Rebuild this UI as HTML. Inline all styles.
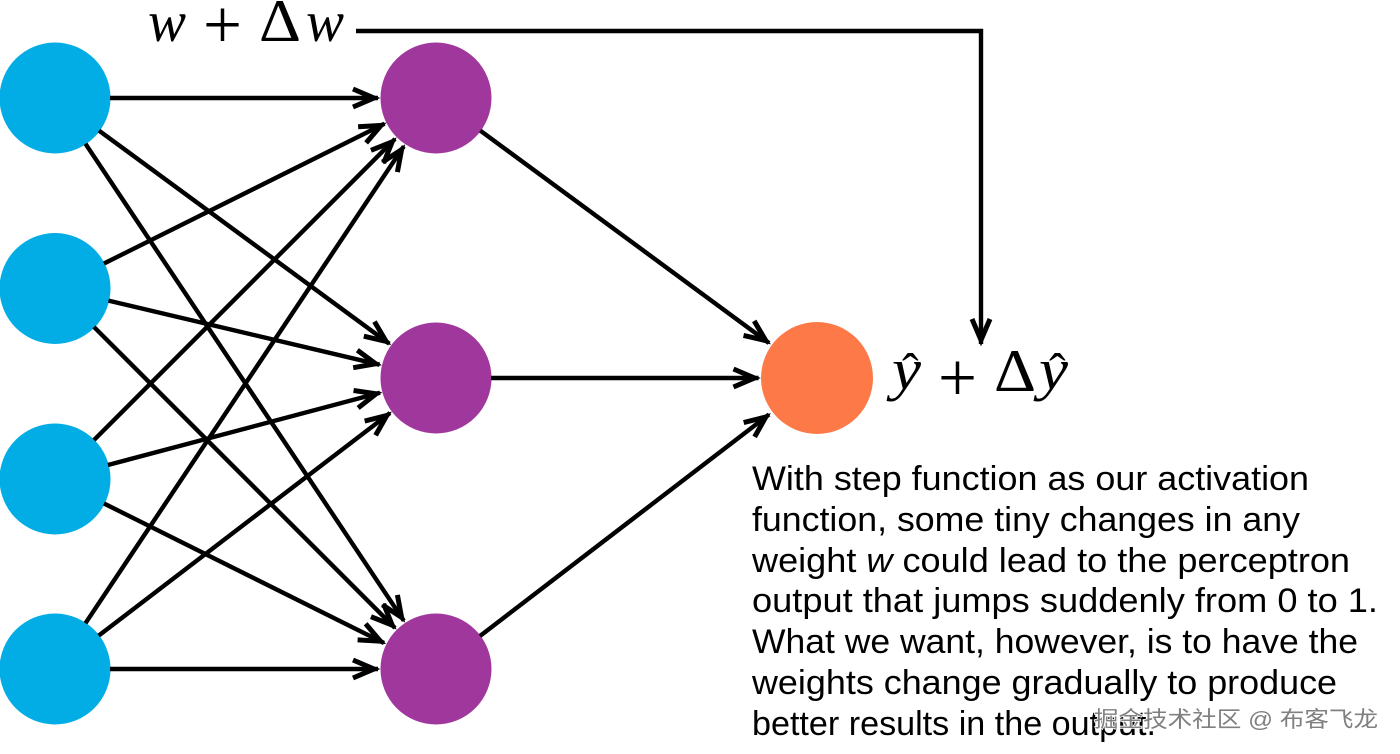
<!DOCTYPE html>
<html><head><meta charset="utf-8"><style>
html,body{margin:0;padding:0;background:#fff;width:1400px;height:754px;overflow:hidden}
svg{display:block}
.t{font-family:"Liberation Sans",sans-serif;font-size:34px;fill:#000}
.m{font-family:"Liberation Serif",serif;fill:#000}
.i{font-style:italic}
.wm{font-family:"Liberation Sans","Noto Sans CJK SC",sans-serif;font-size:22px;fill:#808080;paint-order:stroke;stroke:#fff;stroke-width:1.5px}
</style></head><body>
<svg width="1400" height="754" viewBox="0 0 1400 754" xmlns="http://www.w3.org/2000/svg">
<defs>
<marker id="a" markerUnits="userSpaceOnUse" markerWidth="40" markerHeight="40" refX="28" refY="20" orient="auto">
<path d="M3,11 L24,20 L3,29" fill="none" stroke="#000" stroke-width="5"/>
</marker>
</defs>
<g fill="#01ade4">
<circle cx="55" cy="98" r="55.5"/><circle cx="55" cy="288.5" r="55.5"/><circle cx="55" cy="479" r="55.5"/><circle cx="55" cy="669" r="55.5"/>
</g>
<g fill="#a0379d">
<circle cx="436" cy="98" r="55.5"/><circle cx="436" cy="378" r="55.5"/><circle cx="436" cy="669" r="55.5"/>
</g>
<circle cx="817" cy="378" r="56" fill="#fd7a48"/>
<g stroke="#000" stroke-width="4.4" fill="none">
<line x1="110" y1="98" x2="378" y2="98" marker-end="url(#a)"/>
<line x1="99" y1="130.6" x2="389.3" y2="343.7" marker-end="url(#a)"/>
<line x1="85.5" y1="143.8" x2="403.8" y2="620.7" marker-end="url(#a)"/>
<line x1="104" y1="263.5" x2="384.5" y2="123.7" marker-end="url(#a)"/>
<line x1="108.5" y1="300.6" x2="379.6" y2="364.7" marker-end="url(#a)"/>
<line x1="94" y1="327" x2="395" y2="628" marker-end="url(#a)"/>
<line x1="94" y1="440" x2="395" y2="139" marker-end="url(#a)"/>
<line x1="108" y1="465" x2="380" y2="392.8" marker-end="url(#a)"/>
<line x1="104" y1="503.5" x2="384" y2="643" marker-end="url(#a)"/>
<line x1="85.5" y1="623.2" x2="403.8" y2="146.3" marker-end="url(#a)"/>
<line x1="98.7" y1="635.6" x2="390" y2="413" marker-end="url(#a)"/>
<line x1="110" y1="669" x2="378" y2="669" marker-end="url(#a)"/>
<line x1="480.3" y1="130.6" x2="769" y2="343" marker-end="url(#a)"/>
<line x1="491" y1="378" x2="758.5" y2="378" marker-end="url(#a)"/>
<line x1="480" y1="636" x2="769" y2="414.5" marker-end="url(#a)"/>
<polyline points="356,31 981,31 981,344" stroke-linejoin="miter" marker-end="url(#a)"/>
</g>
<text class="m i" x="148" y="41" font-size="58" textLength="38" lengthAdjust="spacingAndGlyphs">w</text>
<text class="m" x="203" y="48" font-size="70" textLength="39" lengthAdjust="spacingAndGlyphs">+</text>
<text class="m" x="259" y="41" font-size="60" textLength="42" lengthAdjust="spacingAndGlyphs">Δ</text>
<text class="m i" x="306" y="41" font-size="58" textLength="38" lengthAdjust="spacingAndGlyphs">w</text>
<text class="m i" x="892" y="389" font-size="58" textLength="29" lengthAdjust="spacingAndGlyphs">y</text>
<text class="m" x="902" y="388" font-size="50">ˆ</text>
<text class="m" x="938" y="401" font-size="70" textLength="39" lengthAdjust="spacingAndGlyphs">+</text>
<text class="m" x="994" y="391" font-size="60" textLength="42" lengthAdjust="spacingAndGlyphs">Δ</text>
<text class="m i" x="1039" y="389" font-size="58" textLength="29" lengthAdjust="spacingAndGlyphs">y</text>
<text class="m" x="1049" y="388" font-size="50">ˆ</text>
<text class="t" x="752" y="490" textLength="557" lengthAdjust="spacingAndGlyphs">With step function as our activation</text>
<text class="t" x="752" y="531" textLength="548" lengthAdjust="spacingAndGlyphs">function, some tiny changes in any</text>
<text class="t" x="752" y="572" textLength="598" lengthAdjust="spacingAndGlyphs">weight <tspan font-style="italic">w</tspan> could lead to the perceptron</text>
<text class="t" x="752" y="612" textLength="626" lengthAdjust="spacingAndGlyphs">output that jumps suddenly from 0 to 1.</text>
<text class="t" x="752" y="653" textLength="606" lengthAdjust="spacingAndGlyphs">What we want, however, is to have the</text>
<text class="t" x="752" y="694" textLength="585" lengthAdjust="spacingAndGlyphs">weights change gradually to produce</text>
<text class="t" x="752" y="735" textLength="404" lengthAdjust="spacingAndGlyphs">better results in the output.</text>
<text class="wm" x="1094" y="727" textLength="284" lengthAdjust="spacingAndGlyphs">掘金技术社区 @ 布客飞龙</text>
</svg>
</body></html>
